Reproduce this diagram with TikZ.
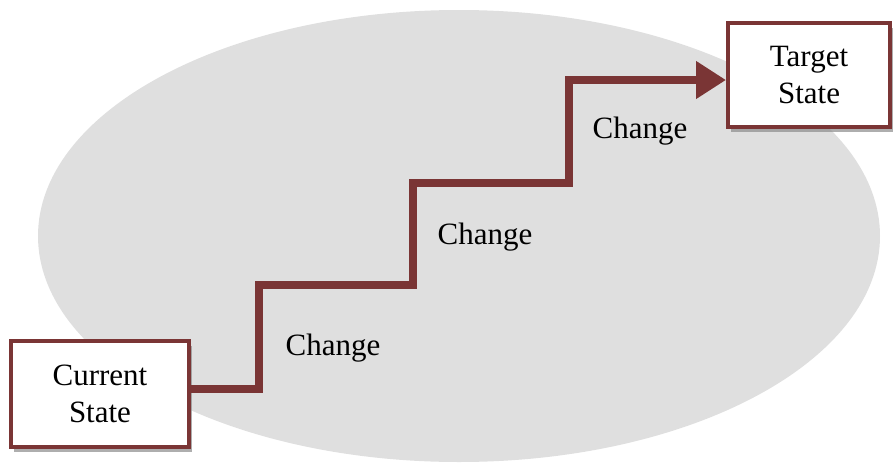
\documentclass[tikz,border=0pt]{standalone}
\usepackage{fontspec}
\setmainfont{Liberation Serif}
\usetikzlibrary{arrows.meta,shadows}
\definecolor{stair}{HTML}{7A3535}
\definecolor{ellfill}{HTML}{DFDFDF}
\tikzset{
  statebox/.style={draw=stair, line width=4pt, fill=white, align=center,
    font=\fontsize{31}{37}\selectfont, inner sep=0pt,
    drop shadow={shadow xshift=3pt, shadow yshift=-5pt, fill=black!45, opacity=0.7}},
  stairline/.style={draw=stair, line width=8pt, line join=miter},
  chlabel/.style={font=\fontsize{31}{37}\selectfont, inner sep=0pt}
}
\begin{document}
\begin{tikzpicture}[x=1pt,y=-1pt]
\useasboundingbox (0,0) rectangle (894,466);
\fill[ellfill] (459,236) ellipse [x radius=421, y radius=226];
\node[statebox, minimum width=178pt, minimum height=106pt] (cur) at (100,394) {Current\\State};
\node[statebox, minimum width=162pt, minimum height=104pt] (tgt) at (809,75) {Target\\State};
\coordinate (s0) at (cur.east |- 0,389);
\coordinate (s1) at (259,389);
\coordinate (s2) at (259,285);
\coordinate (s3) at (413,285);
\coordinate (s4) at (413,183);
\coordinate (s5) at (569,183);
\coordinate (s6) at (569,80);
\coordinate (s7) at (tgt.west |- 0,80);
\draw[stairline, -{Triangle[length=30pt,width=36pt]}] (s0) -- (s1) -- (s2) -- (s3) -- (s4) -- (s5) -- (s6) -- (s7);
\node[chlabel] (c1) at (333,348) {Change};
\node[chlabel] (c2) at (485,237) {Change};
\node[chlabel] (c3) at (640,131) {Change};
\end{tikzpicture}
\end{document}
